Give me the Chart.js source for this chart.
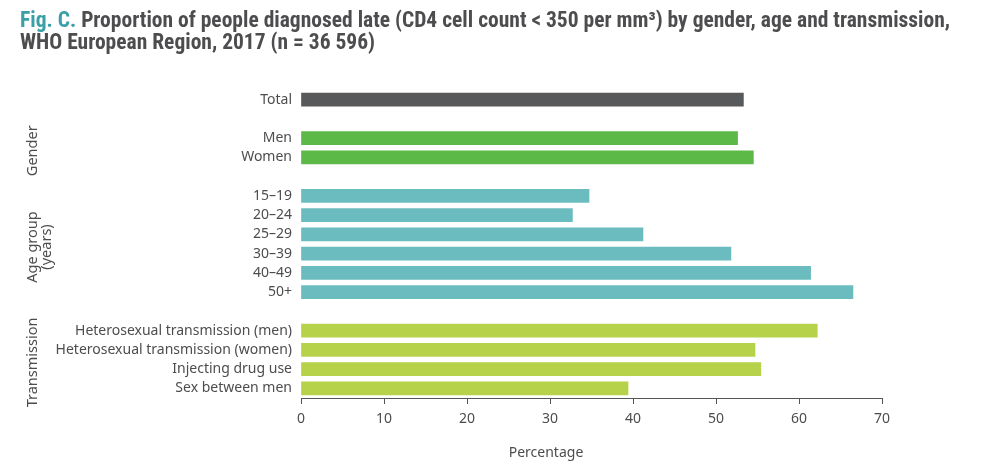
<!DOCTYPE html>
<html><head><meta charset="utf-8">
<script src="https://cdn.jsdelivr.net/npm/chart.js@4"></script>
<style>
html,body{margin:0;padding:0;background:#fff;}
#wrap{position:relative;width:982px;height:473px;}
#title{position:absolute;left:20px;top:9px;font-family:"Liberation Sans Narrow","Roboto Condensed","Liberation Sans",sans-serif;font-weight:bold;font-size:21.5px;line-height:22px;color:#4d4d4f;white-space:nowrap;}
#title .fig{color:#3a9fa6;}
canvas{position:absolute;left:0;top:0;}
</style></head>
<body><div id="wrap"><canvas id="c" width="982" height="473"></canvas>
<div id="title"><span class="fig">Fig. C.</span> Proportion of people diagnosed late (CD4 cell count &lt; 350 per mm³) by gender, age and transmission,<br>WHO European Region, 2017 (n = 36 596)</div></div>
<script>
const categories = ["Total","","Men","Women","","15–19","20–24","25–29","30–39","40–49","50+","","Heterosexual transmission (men)","Heterosexual transmission (women)","Injecting drug use","Sex between men"];
const values = [53.3,null,52.6,54.5,null,34.7,32.7,41.2,51.8,61.4,66.5,null,62.2,54.7,55.4,39.4];
const groupOf = ["total","","gender","gender","","age","age","age","age","age","age","","trans","trans","trans","trans"];
const groupColors = {total:"#58595b",gender:"#5db947",age:"#6bbcbf",trans:"#b6d24a","":"#fff"};
const groupLabels = [
  {lines:["Gender"], from:2, to:3},
  {lines:["Age group","(years)"], from:5, to:10},
  {lines:["Transmission"], from:12, to:15}
];
const xTicks = [0,10,20,30,40,50,60,70];
const xTitle = "Percentage";

const FONT = '"Noto Sans","Open Sans",sans-serif';
const TXT = "#4d4d4f";

const extras = {
  id:'extras',
  afterDraw(chart){
    const ctx = chart.ctx, y = chart.scales.y;
    ctx.save();
    ctx.fillStyle = TXT;
    ctx.font = '14.5px ' + FONT;
    ctx.textAlign = 'center';
    ctx.textBaseline = 'middle';
    groupLabels.forEach(g=>{
      const cy = (y.getPixelForValue(g.from) + y.getPixelForValue(g.to))/2 + 3;
      g.lines.forEach((ln,i)=>{
        const cx = 33 + i*14;
        ctx.save();
        ctx.translate(cx, cy);
        ctx.rotate(-Math.PI/2);
        ctx.fillText(ln, 0, 0);
        ctx.restore();
      });
    });
    ctx.font = '14px ' + FONT;
    ctx.fillText(xTitle, 546, 453);
    ctx.restore();
  }
};

new Chart(document.getElementById('c'), {
  type:'bar',
  data:{labels:categories, datasets:[{data:values, backgroundColor:groupOf.map(g=>groupColors[g]), barThickness:13}]},
  options:{
    indexAxis:'y', responsive:false, animation:false,
    layout:{padding:{top:90,right:100,left:0,bottom:0}},
    plugins:{legend:{display:false},tooltip:{enabled:false}},
    scales:{
      x:{min:0,max:70,
        afterBuildTicks(s){ s.ticks = xTicks.map(v=>({value:v})); },
        afterFit(s){ s.height = 75; },
        grid:{display:true,drawOnChartArea:false,drawTicks:true,tickLength:6,color:'#555',lineWidth:1},
        border:{display:true,color:'#555',width:1},
        ticks:{color:TXT,font:{family:FONT,size:14},padding:7,maxRotation:0}
      },
      y:{
        afterFit(s){ s.width = 301; },
        grid:{display:false,drawTicks:false,tickLength:0},
        border:{display:false},
        ticks:{color:TXT,font:{family:FONT,size:14},padding:9,autoSkip:false}
      }
    }
  },
  plugins:[extras]
});
</script></body></html>
